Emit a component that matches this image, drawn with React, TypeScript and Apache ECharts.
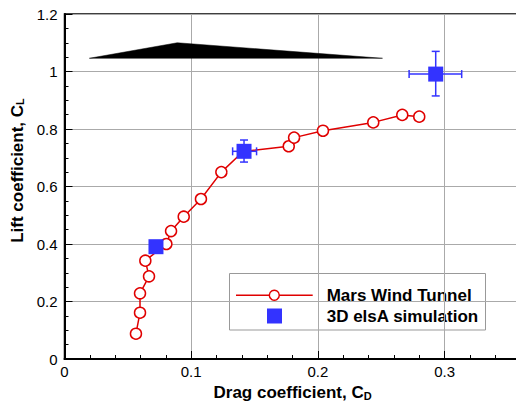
import React, { useEffect, useRef } from "react";
import * as echarts from "echarts";

// Mars Wind Tunnel measurements
const windCD = [0.0564, 0.0596, 0.0596, 0.0667, 0.0638, 0.0804, 0.0841, 0.0941, 0.1077, 0.1238, 0.141, 0.177, 0.1812, 0.204, 0.2437, 0.2666, 0.28];
const windCL = [0.088, 0.161, 0.2285, 0.2876, 0.342, 0.4, 0.445, 0.495, 0.5565, 0.65, 0.722, 0.74, 0.77, 0.794, 0.823, 0.849, 0.843];

// 3D elsA simulation
const simCD = [0.0722, 0.1417, 0.293];
const simCL = [0.3906, 0.7224, 0.991];
const simCDlo = [null, 0.1327, 0.272];
const simCDhi = [null, 0.1516, 0.3135];
const simCLlo = [null, 0.685, 0.915];
const simCLhi = [null, 0.7617, 1.07];

// airfoil silhouette (in data coordinates)
const airfoilCD = [0.0196, 0.089, 0.251];
const airfoilCL = [1.046, 1.1, 1.046];

const xTicks = { min: 0, max: 0.36, interval: 0.1 };
const yTicks = { min: 0, max: 1.2, interval: 0.2 };

const RED = "#e00000";
const BLUE = "#3333ff";
const FONT = "Liberation Sans, Arial, Helvetica, sans-serif";

const richName = {
  a: { fontSize: 17, fontWeight: "bold", color: "#000", fontFamily: FONT, lineHeight: 20, verticalAlign: "bottom" },
  b: { fontSize: 11, fontWeight: "bold", color: "#000", fontFamily: FONT, lineHeight: 11, verticalAlign: "bottom" },
};

export default function App() {
  const ref = useRef<HTMLDivElement>(null);
  useEffect(() => {
    if (!ref.current) return;
    const chart = echarts.init(ref.current, undefined, { renderer: "svg" });
    const errData = simCD
      .map((x, i) => [x, simCL[i], simCDlo[i], simCDhi[i], simCLlo[i], simCLhi[i]])
      .filter((d) => d[2] !== null);
    const option: any = {
      animation: false,
      backgroundColor: "#fff",
      textStyle: { fontFamily: FONT },
      grid: {
        left: 64.5,
        top: 14,
        right: 9.4,
        bottom: 43,
        outerBoundsMode: "none",
        containLabel: false,
        show: true,
        borderColor: "#000",
        borderWidth: 1.5,
        backgroundColor: "transparent",
      },
      xAxis: {
        type: "value",
        min: xTicks.min,
        max: xTicks.max,
        interval: xTicks.interval,
        name: "{a|Drag coefficient, C}{b|D}",
        nameLocation: "middle",
        nameGap: 22,
        nameTextStyle: { rich: richName },
        axisLine: { show: true, lineStyle: { color: "#000", width: 2 } },
        axisTick: { show: true, inside: true, length: 8, lineStyle: { color: "#000", width: 1 } },
        minorTick: { show: true, splitNumber: 5, length: 4, lineStyle: { color: "#000", width: 1 } },
        axisLabel: { color: "#000", fontSize: 15, margin: 5, fontFamily: FONT, showMaxLabel: false },
        splitLine: { show: true, lineStyle: { color: "#aaaaaa", width: 1 } },
      },
      yAxis: {
        type: "value",
        min: yTicks.min,
        max: yTicks.max,
        interval: yTicks.interval,
        name: "{a|Lift coefficient, C}{b|L}",
        nameLocation: "middle",
        nameGap: 36,
        nameTextStyle: { padding: [0, 0, 0, 32], rich: richName },
        axisLine: { show: true, lineStyle: { color: "#000", width: 2 } },
        axisTick: { show: true, inside: true, length: 8, lineStyle: { color: "#000", width: 1 } },
        minorTick: { show: true, splitNumber: 4, length: 4, lineStyle: { color: "#000", width: 1 } },
        axisLabel: { color: "#000", fontSize: 15, margin: 7, fontFamily: FONT },
        splitLine: { show: true, lineStyle: { color: "#aaaaaa", width: 1 } },
      },
      graphic: [
        {
          type: "group",
          z: 100,
          children: [
            { type: "rect", shape: { x: 229.5, y: 273.5, width: 256, height: 56.5 }, style: { fill: "#fff", stroke: "#999", lineWidth: 1 } },
            { type: "line", shape: { x1: 236, y1: 295.3, x2: 312.7, y2: 295.3 }, style: { stroke: RED, lineWidth: 1.5 } },
            { type: "circle", shape: { cx: 274.3, cy: 295.3, r: 5 }, style: { fill: "#fff", stroke: RED, lineWidth: 1.5 } },
            { type: "rect", shape: { x: 267, y: 308.5, width: 15, height: 15 }, style: { fill: BLUE } },
            { type: "text", x: 326.7, y: 295.3, style: { text: "Mars Wind Tunnel", font: `bold 17px ${FONT}`, fill: "#000", verticalAlign: "middle" } },
            { type: "text", x: 326.7, y: 316, style: { text: "3D elsA simulation", font: `bold 17px ${FONT}`, fill: "#000", verticalAlign: "middle" } },
          ],
        },
      ],
      series: [
        {
          name: "airfoil",
          type: "custom",
          z: 3,
          data: airfoilCD.map((x, i) => [x, airfoilCL[i]]),
          renderItem: (params: any, api: any) => {
            if (params.dataIndex !== 0) return null;
            const pts = airfoilCD.map((x, i) => api.coord([x, airfoilCL[i]]));
            return { type: "polygon", shape: { points: pts }, style: { fill: "#000", stroke: "#000", lineWidth: 0.5 } };
          },
        },
        {
          name: "Mars Wind Tunnel",
          type: "line",
          z: 4,
          data: windCD.map((x, i) => [x, windCL[i]]),
          symbol: "circle",
          symbolSize: 11,
          lineStyle: { color: RED, width: 1.5 },
          itemStyle: { color: "#fff", borderColor: RED, borderWidth: 1.5 },
        },
        {
          name: "errors",
          type: "custom",
          z: 5,
          data: errData,
          renderItem: (params: any, api: any) => {
            const x = api.value(0), y = api.value(1);
            const pl = api.coord([api.value(2), y]);
            const ph = api.coord([api.value(3), y]);
            const pb = api.coord([x, api.value(4)]);
            const pt = api.coord([x, api.value(5)]);
            const c = 4;
            const style = { stroke: BLUE, lineWidth: 1.5, fill: null };
            return {
              type: "group",
              children: [
                { type: "line", shape: { x1: pl[0], y1: pl[1], x2: ph[0], y2: ph[1] }, style },
                { type: "line", shape: { x1: pl[0], y1: pl[1] - c, x2: pl[0], y2: pl[1] + c }, style },
                { type: "line", shape: { x1: ph[0], y1: ph[1] - c, x2: ph[0], y2: ph[1] + c }, style },
                { type: "line", shape: { x1: pb[0], y1: pb[1], x2: pt[0], y2: pt[1] }, style },
                { type: "line", shape: { x1: pb[0] - c, y1: pb[1], x2: pb[0] + c, y2: pb[1] }, style },
                { type: "line", shape: { x1: pt[0] - c, y1: pt[1], x2: pt[0] + c, y2: pt[1] }, style },
              ],
            };
          },
        },
        {
          name: "3D elsA simulation",
          type: "scatter",
          z: 6,
          data: simCD.map((x, i) => [x, simCL[i]]),
          symbol: "rect",
          symbolSize: 15,
          itemStyle: { color: BLUE, opacity: 1 },
        },
      ],
    };
    chart.setOption(option);
    return () => chart.dispose();
  }, []);
  return (
    <div style={{ position: "fixed", left: 0, top: 0, width: 516, height: 402, overflow: "hidden", background: "#fff" }}>
      <div ref={ref} style={{ width: 530, height: 402 }} />
    </div>
  );
}
